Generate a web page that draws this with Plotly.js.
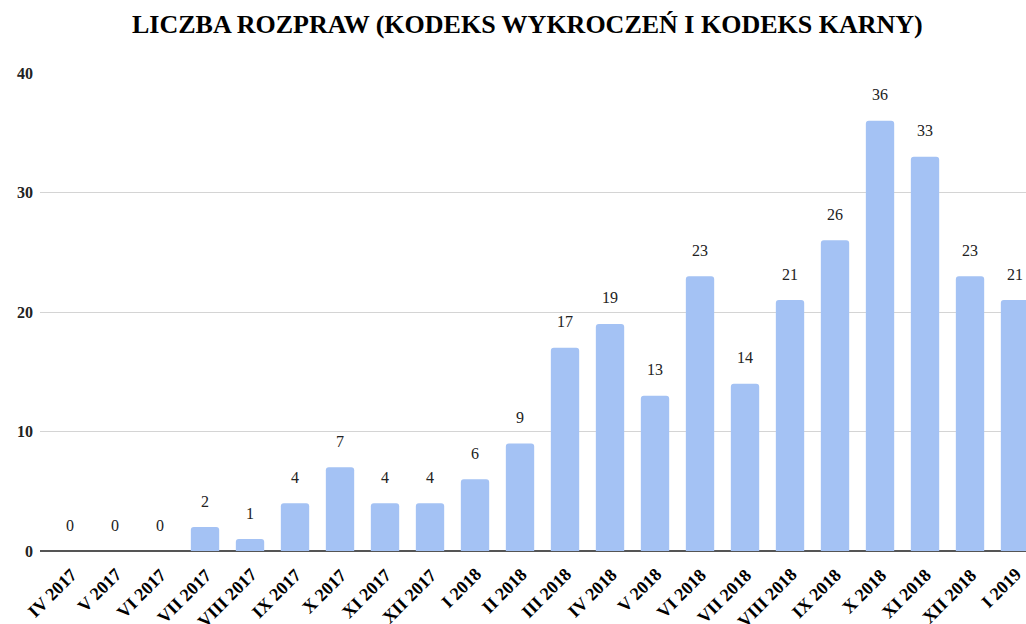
<!DOCTYPE html>
<html>
<head>
<meta charset="utf-8">
<script src="https://cdn.plot.ly/plotly-3.0.1.min.js"></script>
<style>
	html, body { margin: 0; padding: 0; background: #fff; }
	#chart { width: 1026px; height: 624px; }
</style>
</head>
<body>
<div id="chart"></div>
<script>
// months (roman numerals) and number of hearings
var months = ['IV 2017', 'V 2017', 'VI 2017', 'VII 2017', 'VIII 2017', 'IX 2017', 'X 2017',
	'XI 2017', 'XII 2017', 'I 2018', 'II 2018', 'III 2018', 'IV 2018', 'V 2018', 'VI 2018',
	'VII 2018', 'VIII 2018', 'IX 2018', 'X 2018', 'XI 2018', 'XII 2018', 'I 2019'];
var counts = [0, 0, 0, 2, 1, 4, 7, 4, 4, 6, 9, 17, 19, 13, 23, 14, 21, 26, 36, 33, 23, 21];
var yTicks = [0, 10, 20, 30, 40];

const SERIF = '"Liberation Serif", "Times New Roman", serif';

var bars = {
	x: months,
	y: counts,
	type: 'bar',
	marker: {
		color: '#a4c2f4',
		cornerradius: 3,
	},
	hoverinfo: 'x+y',
};

// value labels sit a bit higher above the bars than plotly's own text
var labels = months.map(function(m, i) {
	return {
		x: m,
		y: counts[i],
		text: String(counts[i]),
		showarrow: false,
		yanchor: 'middle',
		yshift: 26,
		font: {family: SERIF, size: 16, color: '#222'},
	};
});

// month labels: plotly flattens rotated tick labels when their boxes overlap,
// so they are placed as rotated annotations on the category positions
var monthLabels = months.map(function(m) {
	return {
		x: m,
		y: 0,
		text: m,
		showarrow: false,
		textangle: -45,
		xanchor: 'right',
		yanchor: 'top',
		xshift: 12,
		yshift: -12,
		borderpad: 0,
		font: {family: SERIF, size: 18, color: '#000', weight: 'bold'},
	};
});

const layout = {
	width: 1026,
	height: 624,
	margin: {l: 40, r: 0, t: 73, b: 73},
	paper_bgcolor: '#fff',
	plot_bgcolor: '#fff',
	showlegend: false,
	bargap: 0.37,
	title: {
		text: 'LICZBA ROZPRAW (KODEKS WYKROCZEŃ I KODEKS KARNY)',
		font: {family: SERIF, size: 26, color: '#000', weight: 'bold'},
		x: 0.514,
		xanchor: 'center',
		y: 0.962,
		yref: 'container',
		yanchor: 'middle',
	},
	xaxis: {
		type: 'category',
		range: [-0.667, 21.244],
		showticklabels: false,
		automargin: false,
		showgrid: false,
		showline: false,
		ticks: '',
	},
	yaxis: {
		range: [0, 40],
		tickvals: yTicks,
		ticktext: yTicks.map(String),
		gridcolor: '#d4d4d4',
		gridwidth: 1,
		zeroline: true,
		zerolinecolor: '#555',
		zerolinewidth: 1.5,
		ticks: '',
		ticklabelstandoff: 6,
		tickfont: {family: SERIF, size: 16, color: '#222', weight: 'bold'},
	},
	annotations: labels.concat(monthLabels),
};

Plotly.newPlot('chart', [bars], layout, {displayModeBar: false, staticPlot: true});
</script>
</body>
</html>
